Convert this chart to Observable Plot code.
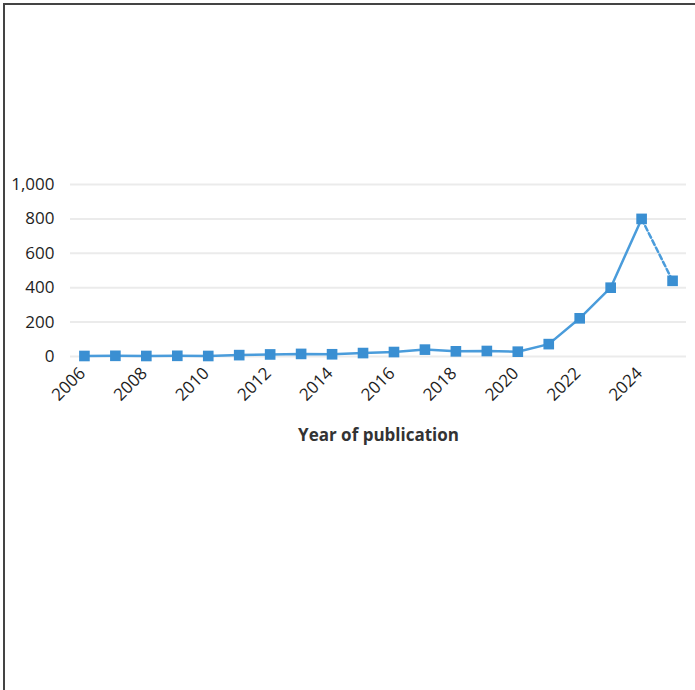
<!DOCTYPE html>
<html>
<head>
<meta charset="utf-8">
<script src="https://cdn.jsdelivr.net/npm/d3@7"></script>
<script src="https://cdn.jsdelivr.net/npm/@observablehq/plot@0.6"></script>
<style>
  html, body { margin: 0; padding: 0; background: #fff; }
  #frame { position: relative; width: 695px; height: 690px; overflow: hidden; }
  #border { position: absolute; left: 3px; top: 3px; right: 0; bottom: 0;
            border-top: 2px solid #444; border-left: 2px solid #444; }
  #chart { position: absolute; left: 0; top: 0; }
</style>
</head>
<body>
<div id="frame">
  <div id="border"></div>
  <div id="chart"></div>
</div>
<script>
const years = [2006, 2007, 2008, 2009, 2010, 2011, 2012, 2013, 2014, 2015,
               2016, 2017, 2018, 2019, 2020, 2021, 2022, 2023, 2024, 2025];
const counts = [3, 4, 3, 4, 3, 8, 12, 15, 13, 20,
                26, 40, 30, 32, 28, 72, 222, 400, 800, 440];
const xTicks = [2006, 2008, 2010, 2012, 2014, 2016, 2018, 2020, 2022, 2024];
const yTicks = [0, 200, 400, 600, 800, 1000];
const xTitle = "Year of publication";

const data = years.map((y, i) => ({year: y, n: counts[i]}));
const solid = data.filter(d => d.year <= 2024);
const dashed = data.filter(d => d.year >= 2024);

const blue = "#3a8fd2";
const font = "'Open Sans', sans-serif";

const chart = Plot.plot({
  width: 695,
  height: 690,
  marginLeft: 70,
  marginRight: 9,
  marginTop: 184,
  marginBottom: 334,
  style: {fontFamily: font, fontSize: "16px", color: "#1e1e1e", background: "transparent"},
  x: {domain: [2005.55, 2025.45], label: null},
  y: {domain: [0, 1000], label: null},
  marks: [
    Plot.ruleY(yTicks, {stroke: "#ebebeb", strokeWidth: 2}),
    Plot.axisY({ticks: yTicks, tickSize: 0, tickPadding: 16, tickFormat: d3.format(","), fontSize: 17}),
    Plot.axisX({ticks: xTicks, tickSize: 0, tickPadding: 14, tickRotate: -45, tickFormat: d => String(d), fontSize: 17, dx: -2}),
    Plot.line(solid, {x: "year", y: "n", stroke: "#4a9cdb", strokeWidth: 2.5}),
    Plot.line(dashed, {x: "year", y: "n", stroke: "#4a9cdb", strokeWidth: 2.5, strokeDasharray: "5,3"}),
    Plot.dot(data, {x: "year", y: "n", symbol: "square", r: 6, fill: blue, stroke: "none"}),
    Plot.text([xTitle], {frameAnchor: "bottom", dy: 84, text: d => d, fontWeight: "bold", fontSize: 17, fill: "#333"})
  ]
});
document.getElementById("chart").appendChild(chart);
</script>
</body>
</html>
